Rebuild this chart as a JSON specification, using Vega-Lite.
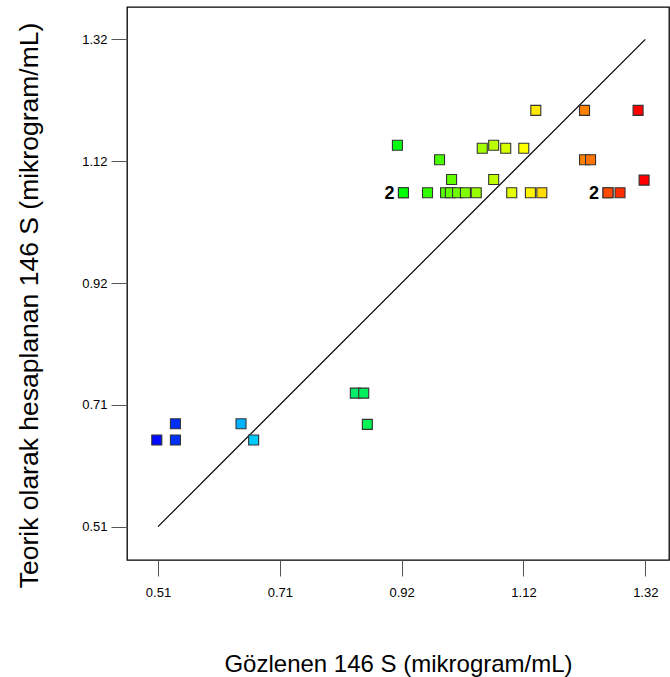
{
  "$schema": "https://vega.github.io/schema/vega-lite/v6.json",
  "width": 542,
  "height": 553,
  "autosize": {"type": "none"},
  "padding": {"left": 127, "top": 7, "right": 1, "bottom": 117},
  "background": "white",
  "config": {
    "font": "Liberation Sans",
    "view": {"stroke": "#000000", "strokeWidth": 1.3},
    "axis": {
      "grid": false,
      "domain": false,
      "tickSize": 16,
      "tickColor": "#555555",
      "tickWidth": 1,
      "labelFont": "Liberation Sans",
      "labelFontSize": 13,
      "labelColor": "#000000",
      "titleFont": "Liberation Sans",
      "titleFontSize": 24,
      "titleFontWeight": "normal",
      "titleColor": "#000000"
    }
  },
  "datasets": {
    "runs": [
      {"observed": 0.508, "predicted": 0.654},
      {"observed": 0.539, "predicted": 0.654},
      {"observed": 0.539, "predicted": 0.681},
      {"observed": 0.648, "predicted": 0.681},
      {"observed": 0.669, "predicted": 0.654},
      {"observed": 0.838, "predicted": 0.732},
      {"observed": 0.852, "predicted": 0.732},
      {"observed": 0.858, "predicted": 0.680},
      {"observed": 0.908, "predicted": 1.144},
      {"observed": 0.918, "predicted": 1.065},
      {"observed": 0.918, "predicted": 1.065},
      {"observed": 0.958, "predicted": 1.065},
      {"observed": 0.978, "predicted": 1.120},
      {"observed": 0.988, "predicted": 1.065},
      {"observed": 0.996, "predicted": 1.065},
      {"observed": 0.998, "predicted": 1.087},
      {"observed": 1.008, "predicted": 1.065},
      {"observed": 1.021, "predicted": 1.065},
      {"observed": 1.039, "predicted": 1.065},
      {"observed": 1.049, "predicted": 1.139},
      {"observed": 1.068, "predicted": 1.144},
      {"observed": 1.068, "predicted": 1.087},
      {"observed": 1.088, "predicted": 1.139},
      {"observed": 1.098, "predicted": 1.065},
      {"observed": 1.118, "predicted": 1.139},
      {"observed": 1.129, "predicted": 1.065},
      {"observed": 1.138, "predicted": 1.202},
      {"observed": 1.148, "predicted": 1.065},
      {"observed": 1.219, "predicted": 1.202},
      {"observed": 1.219, "predicted": 1.120},
      {"observed": 1.229, "predicted": 1.120},
      {"observed": 1.258, "predicted": 1.065},
      {"observed": 1.258, "predicted": 1.065},
      {"observed": 1.278, "predicted": 1.065},
      {"observed": 1.308, "predicted": 1.202},
      {"observed": 1.318, "predicted": 1.086}
    ],
    "identity": [
      {"v": 0.51},
      {"v": 1.32}
    ]
  },
  "layer": [
    {
      "data": {"name": "identity"},
      "mark": {"type": "line", "color": "#000000", "strokeWidth": 1.2},
      "encoding": {
        "x": {
          "field": "v",
          "type": "quantitative",
          "scale": {"domain": [0.4585, 1.3594], "nice": false, "zero": false},
          "axis": {
            "title": "Gözlenen 146 S (mikrogram/mL)",
            "values": [0.51, 0.7125, 0.915, 1.1175, 1.32],
            "format": ".2f",
            "labelPadding": 10,
            "titlePadding": 53
          }
        },
        "y": {
          "field": "v",
          "type": "quantitative",
          "scale": {"domain": [0.4546, 1.3738], "nice": false, "zero": false},
          "axis": {
            "title": "Teorik olarak hesaplanan 146 S (mikrogram/mL)",
            "values": [0.51, 0.7125, 0.915, 1.1175, 1.32],
            "format": ".2f",
            "labelPadding": 4,
            "titlePadding": 38,
            "titleFontSize": 26.5,
            "titleY": 298
          }
        }
      }
    },
    {
      "data": {"name": "runs"},
      "mark": {"type": "point", "shape": "square", "filled": true, "size": 100, "opacity": 1, "stroke": "#333333", "strokeWidth": 1.1},
      "encoding": {
        "x": {"field": "observed", "type": "quantitative"},
        "y": {"field": "predicted", "type": "quantitative"},
        "color": {
          "field": "observed",
          "type": "quantitative",
          "legend": null,
          "scale": {
            "domain": [0.50, 0.67, 0.85, 0.92, 1.12, 1.22, 1.31],
            "range": ["#0000ff", "#00ccff", "#00f060", "#00ff00", "#ffff00", "#ff8000", "#ff0000"],
            "interpolate": "rgb"
          }
        }
      }
    },
    {
      "data": {"name": "runs"},
      "transform": [
        {"aggregate": [{"op": "count", "as": "n"}], "groupby": ["observed", "predicted"]},
        {"filter": "datum.n > 1"}
      ],
      "mark": {"type": "text", "align": "right", "baseline": "middle", "dx": -9, "dy": 1, "fontSize": 18, "fontWeight": "bold", "color": "#000000"},
      "encoding": {
        "x": {"field": "observed", "type": "quantitative"},
        "y": {"field": "predicted", "type": "quantitative"},
        "text": {"field": "n", "type": "quantitative"}
      }
    }
  ]
}
